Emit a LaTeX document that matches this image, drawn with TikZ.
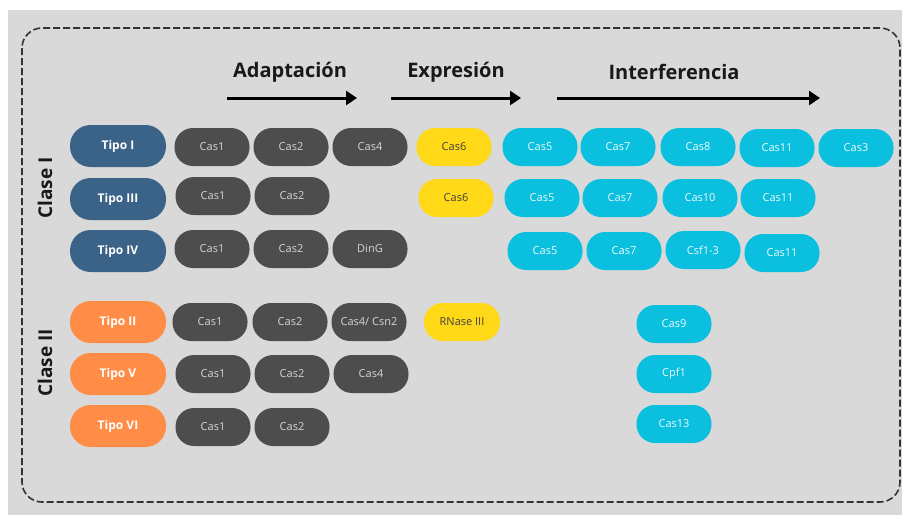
\documentclass[tikz,border=0pt]{standalone}
\usepackage{fontspec}
\setmainfont{Open Sans}
\usetikzlibrary{arrows.meta}
\definecolor{fondo}{HTML}{D9D9D9}
\definecolor{azul}{HTML}{3B6388}
\definecolor{naranja}{HTML}{FF8C47}
\definecolor{gris}{HTML}{4D4D4D}
\definecolor{amarillo}{HTML}{FFD818}
\definecolor{cian}{HTML}{0BBFDE}
\tikzset{
  pill/.style={rounded corners=18.5pt, minimum width=75pt, minimum height=38pt, inner sep=0pt, font=\fontsize{11}{13}\selectfont},
  tipo/.style={pill, minimum width=96pt, minimum height=42pt, rounded corners=20.5pt, text=white, font=\fontsize{12}{14}\selectfont\bfseries},
  adap/.style={pill, fill=gris, text=fondo!110},
  expr/.style={pill, fill=amarillo, text=black!75},
  inter/.style={pill, fill=cian, text=white!92!cian},
  fase/.style={font=\fontsize{20}{23}\selectfont\bfseries, text=black!90},
  clase/.style={fase, font=\fontsize{19}{22}\selectfont\bfseries, rotate=90},
  flecha/.style={line width=3pt, -{Triangle[length=11pt,width=14pt]}}
}
\begin{document}
\begin{tikzpicture}[x=1pt,y=-1pt]
	\useasboundingbox (0,0) rectangle (902,515);
	\fill[fondo] (8,10) rectangle (902,515);
	\draw[black!80, line width=1.6pt, dash pattern=on 7pt off 3pt, rounded corners=20pt] (22,28) rectangle (900,502);

	\node[fase] (FA) at (290,72) {Adaptación};
	\node[fase] (FE) at (456,72) {Expresión};
	\node[fase] (FI) at (674,72) {Interferencia};
	\coordinate (AS) at (227,98); \coordinate (AE) at (357,98);
	\coordinate (ES) at (391,98); \coordinate (EE) at (521,98);
	\coordinate (IS) at (557,98); \coordinate (IE) at (820,98);
	\draw[flecha] (AS)--(AE);
	\draw[flecha] (ES)--(EE);
	\draw[flecha] (IS)--(IE);

	\node[clase] (CI) at (45,188) {Clase I};
	\node[clase] (CII) at (45,363) {Clase II};

	% Clase I
	\node[tipo, fill=azul] (TA) at (118,146) {Tipo I};
	\node[adap] (AA1) at (212,147) {Cas1};
	\node[adap] (AA2) at (291,147) {Cas2};
	\node[adap] (AA3) at (370,147) {Cas4};
	\node[expr] (EA) at (454,147) {Cas6};
	\node[inter] (IA1) at (540,147) {Cas5};
	\node[inter] (IA2) at (618,147) {Cas7};
	\node[inter] (IA3) at (698,147) {Cas8};
	\node[inter] (IA4) at (777,148) {Cas11};
	\node[inter] (IA5) at (856,148) {Cas3};

	\node[tipo, fill=azul] (TB) at (118,199) {Tipo III};
	\node[adap] (AB1) at (213,196) {Cas1};
	\node[adap] (AB2) at (292,196) {Cas2};
	\node[expr] (EB) at (456,198) {Cas6};
	\node[inter] (IB1) at (542,198) {Cas5};
	\node[inter] (IB2) at (620,198) {Cas7};
	\node[inter] (IB3) at (700,198) {Cas10};
	\node[inter] (IB4) at (778,198) {Cas11};

	\node[tipo, fill=azul] (TC) at (118,251) {Tipo IV};
	\node[adap] (AC1) at (212,249) {Cas1};
	\node[adap] (AC2) at (291,249) {Cas2};
	\node[adap] (AC3) at (370,249) {DinG};
	\node[inter] (IC1) at (545,251) {Cas5};
	\node[inter] (IC2) at (624,251) {Cas7};
	\node[inter] (IC3) at (703,250) {Csf1-3};
	\node[inter] (IC4) at (782,253) {Cas11};

	% Clase II
	\node[tipo, fill=naranja] (TD) at (118,322) {Tipo II};
	\node[adap] (AD1) at (210,322) {Cas1};
	\node[adap] (AD2) at (290,322) {Cas2};
	\node[adap] (AD3) at (369,322) {Cas4/ Csn2};
	\node[expr, minimum width=76pt] (ED) at (462,322) {RNase III};
	\node[inter] (ID) at (674,324) {Cas9};

	\node[tipo, fill=naranja] (TE) at (118,374) {Tipo V};
	\node[adap] (AE1) at (213,374) {Cas1};
	\node[adap] (AE2) at (292,374) {Cas2};
	\node[adap] (AE3) at (371,374) {Cas4};
	\node[inter] (IE) at (674,374) {Cpf1};

	\node[tipo, fill=naranja] (TF) at (118,426) {Tipo VI};
	\node[adap] (AF1) at (213,427) {Cas1};
	\node[adap] (AF2) at (292,427) {Cas2};
	\node[inter] (IF) at (674,424) {Cas13};
\end{tikzpicture}
\end{document}
